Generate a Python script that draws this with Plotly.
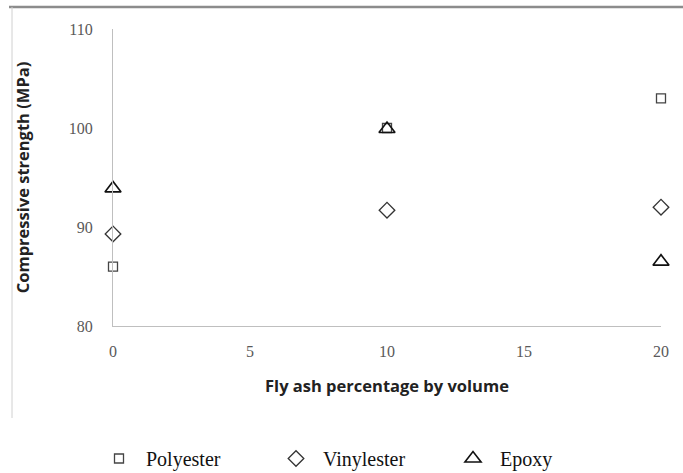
import plotly.graph_objects as go

fly_ash = [0, 10, 20]
polyester = [86.0, 100.0, 103.0]
vinylester = [89.3, 91.7, 92.0]
epoxy = [93.9, 99.9, 86.5]

x_ticks = [0, 5, 10, 15, 20]
y_ticks = [80, 90, 100, 110]

fig = go.Figure()
fig.add_trace(go.Scatter(x=fly_ash, y=polyester, mode="markers", name="Polyester",
                         cliponaxis=False,
                         marker=dict(symbol="square-open", size=9, color="#444444", line=dict(width=1.3))))
fig.add_trace(go.Scatter(x=fly_ash, y=vinylester, mode="markers", name="Vinylester",
                         cliponaxis=False,
                         marker=dict(symbol="diamond-open", size=12, color="#333333", line=dict(width=1.3))))
fig.add_trace(go.Scatter(x=fly_ash, y=epoxy, mode="markers", name="Epoxy",
                         cliponaxis=False,
                         marker=dict(symbol="triangle-up-open", size=14, color="#111111", line=dict(width=1.6))))

L, R, T, B = 113, 22, 29, 147
W, H = 683, 473
pw = W - L - R
ph = H - T - B

def px_x(x):
    return (x - L) / pw

def px_y(y):
    return (H - B - y) / ph

fig.update_layout(
    width=W, height=H,
    margin=dict(l=L, r=R, t=T, b=B, autoexpand=False),
    paper_bgcolor="white", plot_bgcolor="white",
    showlegend=True,
    legend=dict(orientation="h", x=px_x(92), xanchor="left", y=px_y(439), yanchor="top",
                font=dict(family="Liberation Serif", size=20, color="#111111"),
                entrywidth=118, entrywidthmode="pixels", itemwidth=44),
    xaxis=dict(range=[0, 20], tickvals=x_ticks, showgrid=False, zeroline=False, automargin=False,
               showline=True, linecolor="#bfbfbf", linewidth=1.2, ticks="",
               ticklabelstandoff=11,
               tickfont=dict(family="Liberation Serif", size=16, color="#595959"),
               title=dict(text="Fly ash percentage by volume", standoff=21,
                          font=dict(family="Open Sans", size=16.5, color="#222222", weight="bold"))),
    yaxis=dict(range=[80, 110], tickvals=y_ticks, showgrid=False, zeroline=False, automargin=False,
               showline=True, linecolor="#bfbfbf", linewidth=1.2, ticks="",
               ticklabelstandoff=16,
               tickfont=dict(family="Liberation Serif", size=16, color="#595959"),
               title=dict(text="Compressive strength (MPa)", standoff=34,
                          font=dict(family="Open Sans", size=16.5, color="#222222", weight="bold"))),
    shapes=[
        dict(type="line", xref="paper", yref="paper", x0=px_x(9), x1=px_x(683), y0=px_y(7), y1=px_y(7),
             line=dict(color="#8c8c8c", width=2.5)),
        dict(type="line", xref="paper", yref="paper", x0=px_x(12), x1=px_x(12), y0=px_y(7), y1=px_y(418),
             line=dict(color="#d0d0d0", width=1)),
    ],
)

fig.write_html("out.html")
